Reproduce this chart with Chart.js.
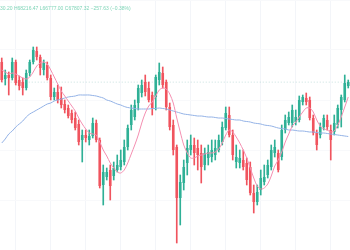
<!DOCTYPE html>
<html>
<head>
<meta charset="utf-8">
<script src="https://cdn.jsdelivr.net/npm/chart.js@4"></script>
<style>
  html, body { margin: 0; padding: 0; background: #fff; }
  #wrap { position: relative; width: 350px; height: 250px; }
  #legend {
    position: absolute; left: 0; top: 5px;
    font: 5px 'Liberation Sans', Arial, sans-serif;
    color: #5cc9a4; opacity: 0.8; white-space: nowrap;
  }
</style>
</head>
<body>
<div id="wrap">
  <canvas id="chart" width="350" height="250"></canvas>
  <div id="legend">30.20 H68216.47 L66777.00 C67807.32 −257.63 (−0.38%)</div>
</div>
<script>
// candle values
const opens = [68210, 67870, 67950, 67890, 68210, 67850, 67810, 67690, 67990, 68210,
  68430, 68310, 68050, 68150, 67890, 67510, 67610, 67490, 67370, 67290,
  67190, 67090, 66970, 66650, 66750, 66650, 66730, 66990, 66650, 65750,
  65910, 66050, 65930, 66050, 66110, 66210, 66510, 66950, 67110, 67390,
  67590, 67810, 67690, 67550, 67510, 67850, 67990, 67810, 67310, 66950,
  66510, 65490, 65790, 66190, 66450, 66550, 66490, 66390, 66150, 66290,
  66310, 66350, 66450, 66610, 66890, 67150, 66750, 66210, 66190, 66250,
  66190, 66110, 65590, 65410, 65650, 65810, 65950, 66110, 66390, 66390,
  66310, 66850, 66990, 66990, 67010, 67050, 67410, 67490, 67450, 67090,
  66790, 66750, 66910, 67050, 66850, 66810, 66950, 67250, 67450, 67730];
const closes = [67850, 67950, 67890, 68210, 67790, 67730, 67690, 67990, 68210, 68450,
  68310, 68090, 68190, 67890, 67510, 67610, 67450, 67350, 67250, 67130,
  67050, 66890, 66610, 66750, 66690, 66730, 66990, 66650, 65730, 66010,
  66010, 65730, 66090, 66150, 66250, 66510, 66890, 67250, 67350, 67690,
  67750, 67610, 67450, 67290, 67910, 68010, 67750, 67310, 66910, 66450,
  65490, 65810, 66110, 66490, 66550, 66390, 66350, 66110, 66390, 66410,
  66450, 66490, 66650, 66910, 67190, 66750, 66350, 66310, 66290, 66110,
  65850, 65590, 65410, 65610, 65890, 65910, 66150, 66450, 66510, 66050,
  66850, 67050, 67110, 67250, 67110, 67450, 67510, 67410, 67090, 66790,
  66550, 66910, 67090, 66910, 66650, 66990, 67290, 67510, 67790, 67810];
const highs = [68290, 68050, 68010, 68290, 68250, 67930, 67890, 68050, 68250, 68510,
  68510, 68350, 68250, 68210, 67950, 67690, 67750, 67710, 67450, 67350,
  67250, 67210, 67050, 66850, 66850, 66850, 67090, 67050, 66690, 66150,
  66090, 66150, 66210, 66350, 66450, 66650, 66950, 67350, 67450, 67750,
  67850, 67950, 67810, 67610, 67950, 68190, 68110, 67850, 67390, 67050,
  66550, 65950, 66250, 66650, 66750, 66690, 66650, 66550, 66490, 66550,
  66650, 66650, 66750, 67010, 67310, 67310, 66850, 66550, 66450, 66450,
  66290, 66210, 65750, 65750, 66050, 66150, 66250, 66550, 66650, 66450,
  66950, 67150, 67210, 67350, 67250, 67530, 67550, 67590, 67510, 67150,
  66850, 66990, 67150, 67150, 66950, 67150, 67350, 67550, 67950, 67850];
const lows = [67810, 67750, 67550, 67850, 67750, 67650, 67550, 67650, 67930, 68170,
  68250, 67950, 67950, 67850, 67450, 67450, 67390, 67290, 67190, 67090,
  66990, 66850, 66550, 66210, 66610, 66550, 66690, 66610, 65690, 65350,
  65850, 65450, 65850, 66010, 66050, 66150, 66450, 66850, 67050, 67250,
  67510, 67530, 67410, 67150, 67250, 67750, 67690, 67250, 66850, 66350,
  64590, 64950, 65650, 65950, 66350, 66150, 66050, 65790, 66050, 66150,
  66210, 66250, 66410, 66550, 66850, 66710, 66250, 66090, 66090, 66050,
  65750, 65550, 65190, 65350, 65550, 65750, 65890, 66050, 66310, 66010,
  66250, 66790, 66950, 66910, 66950, 67010, 67350, 67350, 67050, 66750,
  66450, 66690, 66850, 66850, 66250, 66750, 66890, 66910, 67410, 67690];
// fast moving average (pink) and slow moving average (blue)
const fastMA = [68050, 68010, 67970, 67990, 67970, 67930, 67890, 67870, 67910, 68010,
  68130, 68190, 68210, 68170, 68050, 67910, 67770, 67630, 67530, 67430,
  67330, 67230, 67090, 66970, 66870, 66790, 66770, 66750, 66610, 66450,
  66330, 66190, 66090, 66010, 65990, 66050, 66190, 66370, 66550, 66750,
  66990, 67190, 67330, 67410, 67530, 67650, 67690, 67670, 67570, 67390,
  67090, 66810, 66550, 66390, 66290, 66290, 66330, 66350, 66370, 66390,
  66390, 66410, 66470, 66590, 66750, 66850, 66810, 66710, 66590, 66450,
  66290, 66090, 65890, 65730, 65670, 65690, 65770, 65930, 66130, 66250,
  66410, 66610, 66770, 66930, 67010, 67110, 67210, 67290, 67290, 67210,
  67050, 66930, 66870, 66850, 66810, 66830, 66950, 67110, 67310, 67510];
const slowMA = [66590, 66670, 66770, 66830, 66910, 66970, 67030, 67110, 67170, 67210,
  67250, 67290, 67330, 67370, 67390, 67430, 67450, 67470, 67490, 67510,
  67520, 67530, 67550, 67550, 67550, 67550, 67540, 67530, 67510, 67490,
  67450, 67430, 67400, 67370, 67350, 67320, 67300, 67290, 67280, 67270,
  67270, 67270, 67270, 67280, 67280, 67290, 67280, 67270, 67250, 67230,
  67210, 67190, 67170, 67160, 67150, 67140, 67130, 67130, 67120, 67110,
  67110, 67100, 67090, 67090, 67080, 67070, 67060, 67050, 67050, 67030,
  67020, 67010, 66990, 66980, 66970, 66950, 66940, 66930, 66910, 66890,
  66880, 66870, 66850, 66850, 66840, 66830, 66830, 66820, 66810, 66810,
  66800, 66790, 66790, 66780, 66770, 66760, 66750, 66740, 66730, 66720];
const lastPrice = 67807.32;

const labels = opens.map((_, i) => i + 1);
const up = '#2fb096';
const down = '#f0545e';
const candleColors = opens.map((o, i) => closes[i] >= o ? up : down);

new Chart(document.getElementById('chart'), {
    type: 'bar',
    data: {
        labels: labels,
        datasets: [
            {
                type: 'line',
                data: fastMA,
                borderColor: '#f48fb1',
                borderWidth: 1,
                pointRadius: 0,
                tension: 0.3,
                order: 0
            },
            {
                type: 'line',
                data: slowMA,
                borderColor: '#93b2e6',
                borderWidth: 1,
                pointRadius: 0,
                tension: 0.4,
                order: 0
            },
            {
                type: 'line',
                data: labels.map(() => lastPrice),
                borderColor: 'rgba(120, 180, 175, 0.4)',
                borderWidth: 1,
                borderDash: [1, 2],
                pointRadius: 0,
                order: 3
            },
            {
                // wicks
                data: lows.map((l, i) => [l, highs[i]]),
                backgroundColor: candleColors,
                barThickness: 1,
                grouped: false,
                order: 2
            },
            {
                // bodies
                data: opens.map((o, i) => [o, closes[i]]),
                backgroundColor: candleColors,
                barPercentage: 0.75,
                categoryPercentage: 1,
                grouped: false,
                order: 1
            }
        ]
    },
    options: {
        responsive: false,
        animation: false,
        layout: { padding: 0 },
        plugins: {
            legend: { display: false },
            tooltip: { enabled: false }
        },
        scales: {
            x: {
                offset: true,
                ticks: { display: false },
                border: { display: false },
                grid: {
                    drawTicks: false,
                    offset: false,
                    color: (ctx) => ctx.index % 10 === 4 ? '#f3f5f9' : 'rgba(0,0,0,0)'
                }
            },
            y: {
                min: 64450,
                max: 69450,
                ticks: { display: false, stepSize: 1000 },
                border: { display: false },
                grid: { drawTicks: false, color: '#f8f9fb' }
            }
        }
    }
});
</script>
</body>
</html>
